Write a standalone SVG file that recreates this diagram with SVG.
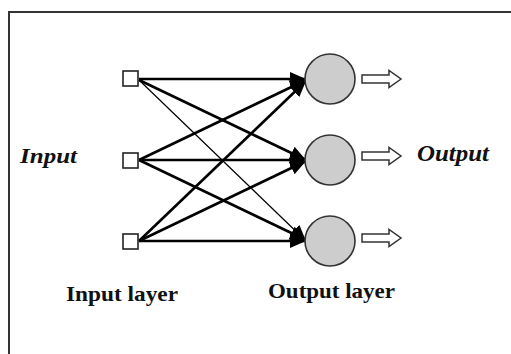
<svg xmlns="http://www.w3.org/2000/svg" width="511" height="354" viewBox="0 0 511 354">
<style>
.sq{fill:#fff;stroke:#222;stroke-width:1.6}
.nd{fill:#cdcdcd;stroke:#333;stroke-width:1.6}
.out{fill:#fff;stroke:#333;stroke-width:1.5}
.c{stroke:#000;stroke-width:2.6;fill:none;marker-end:url(#ah)}
.thin{stroke-width:1.2}
.lbl{font-family:"Liberation Serif",serif;font-weight:bold;fill:#111}
.it{font-style:italic}
</style>
<defs>
<marker id="ah" markerUnits="userSpaceOnUse" markerWidth="18" markerHeight="16" refX="16" refY="8" orient="auto">
<path d="M0,1 L16,8 L0,15 Z" fill="#000"/>
</marker>
</defs>
<rect width="511" height="354" fill="#fff"/>
<path d="M9,354 V12 H511" fill="none" stroke="#333" stroke-width="2"/>
<g id="connectors">
<line class="c" x1="139" y1="79" x2="306" y2="79"/>
<line class="c" x1="139" y1="80" x2="306" y2="160"/>
<line class="c thin" x1="139" y1="80" x2="306" y2="241"/>
<line class="c" x1="139" y1="160" x2="306" y2="80"/>
<line class="c" x1="139" y1="160" x2="306" y2="160"/>
<line class="c" x1="139" y1="160" x2="306" y2="240"/>
<line class="c" x1="139" y1="241" x2="306" y2="81"/>
<line class="c" x1="139" y1="241" x2="306" y2="161"/>
<line class="c" x1="139" y1="241" x2="306" y2="241"/>
</g>
<g id="in1"><rect class="sq" x="123" y="71" width="15" height="15"/></g>
<g id="in2"><rect class="sq" x="123" y="153" width="15" height="15"/></g>
<g id="in3"><rect class="sq" x="123" y="234" width="15" height="15"/></g>
<g id="out1"><circle class="nd" cx="330" cy="79" r="25"/></g>
<g id="out2"><circle class="nd" cx="330" cy="160" r="25"/></g>
<g id="out3"><circle class="nd" cx="330" cy="241" r="25"/></g>
<g id="arrow1"><path class="out" d="M362,75 H389 V70.5 L401,79 L389,87.5 V83 H362 Z"/></g>
<g id="arrow2"><path class="out" d="M362,152 H389 V147.5 L401,156 L389,164.5 V160 H362 Z"/></g>
<g id="arrow3"><path class="out" d="M362,234 H389 V229.5 L401,238 L389,246.5 V242 H362 Z"/></g>
<g id="lbl-input"><text class="lbl it" x="20" y="163" font-size="22" textLength="57" lengthAdjust="spacingAndGlyphs">Input</text></g>
<g id="lbl-output"><text class="lbl it" x="417" y="161" font-size="23" textLength="72" lengthAdjust="spacingAndGlyphs">Output</text></g>
<g id="lbl-inlayer"><text class="lbl" x="66" y="301" font-size="22" textLength="112" lengthAdjust="spacingAndGlyphs">Input layer</text></g>
<g id="lbl-outlayer"><text class="lbl" x="268" y="298" font-size="22" textLength="127" lengthAdjust="spacingAndGlyphs">Output layer</text></g>
</svg>
